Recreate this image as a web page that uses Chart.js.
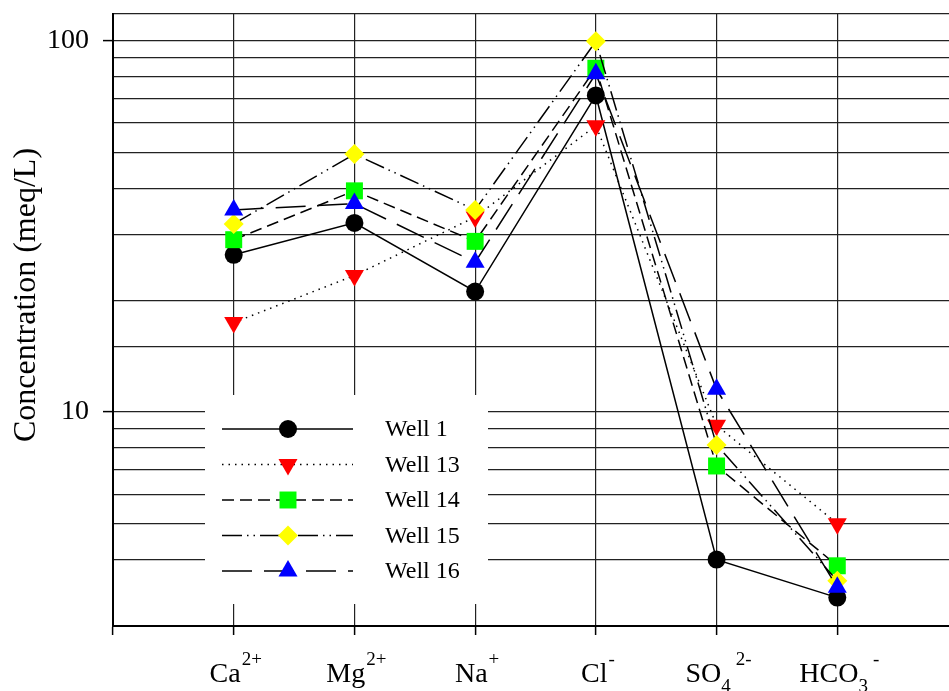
<!DOCTYPE html>
<html>
<head>
<meta charset="utf-8">
<script src="https://cdn.jsdelivr.net/npm/chart.js@4.4.1/dist/chart.umd.min.js"></script>
<style>
  html, body { margin: 0; padding: 0; overflow: hidden; background: #fff; }
  #wrap { position: relative; width: 970px; height: 691px; }
</style>
</head>
<body>
<div id="wrap"><canvas id="chart" width="970" height="691"></canvas></div>
<script>
// ions on the x axis (base text, subscript, superscript)
const ionBase = ['Ca', 'Mg', 'Na', 'Cl', 'SO', 'HCO'];
const ionSub = ['', '', '', '', '4', '3'];
const ionSup = ['2+', '2+', '+', '-', '2-', '-'];

const wellNames = ['Well 1', 'Well 13', 'Well 14', 'Well 15', 'Well 16'];

// concentrations in meq/L, same order as the ions
const well1 = [26.5, 32.3, 21.1, 71.2, 4.0, 3.16];
const well13 = [17.4, 23.3, 33.5, 59, 9.2, 5.0];
const well14 = [29.1, 39.4, 28.8, 84.3, 7.15, 3.85];
const well15 = [32.1, 49.5, 35, 99.6, 8.15, 3.51];
const well16 = [35, 36.4, 25.3, 81.5, 11.5, 3.37];

const yLabelValues = [10, 100];
const yTitle = 'Concentration (meq/L)';

const serif = '"Liberation Serif", "Times New Roman", serif';

function toPoints(values) {
    return values.map((v, i) => ({ x: i + 1, y: v }));
}

const styles = [
    { color: '#000000', shape: 'circle', radius: 9, rotation: 0, dash: [] },
    { color: '#ff0000', shape: 'triangle', radius: 11, rotation: 180, dash: [1.5, 5] },
    { color: '#00ff00', shape: 'rect', radius: 12, rotation: 0, dash: [12, 6] },
    { color: '#ffff00', shape: 'rectRot', radius: 10, rotation: 0, dash: [20, 5, 1.5, 5, 1.5, 5] },
    { color: '#0000ff', shape: 'triangle', radius: 11, rotation: 0, dash: [30, 12] }
];

const allWells = [well1, well13, well14, well15, well16];

const datasets = allWells.map((w, i) => ({
    label: wellNames[i],
    data: toPoints(w),
    borderColor: '#000',
    borderWidth: 1.5,
    borderDash: styles[i].dash,
    pointStyle: styles[i].shape,
    pointRadius: styles[i].radius,
    pointRotation: styles[i].rotation,
    pointBackgroundColor: styles[i].color,
    pointBorderColor: styles[i].color,
    pointBorderWidth: 0,
    fill: false,
    tension: 0,
    order: allWells.length - i
}));

// legend inside the plot, white box
const boxLegend = {
    id: 'boxLegend',
    afterDatasetsDraw(chart) {
        const ctx = chart.ctx;
        ctx.save();
        ctx.fillStyle = '#fff';
        ctx.fillRect(205, 395, 283, 209);
        const rowY = [429, 464.5, 500, 535.5, 571];
        for (let i = 0; i < wellNames.length; i++) {
            const y = rowY[i];
            ctx.strokeStyle = '#000';
            ctx.lineWidth = 1.5;
            ctx.setLineDash(styles[i].dash);
            ctx.beginPath();
            ctx.moveTo(222, y);
            ctx.lineTo(353, y);
            ctx.stroke();
            ctx.setLineDash([]);
            ctx.fillStyle = styles[i].color;
            Chart.helpers.drawPoint(ctx, {
                pointStyle: styles[i].shape,
                radius: styles[i].radius,
                rotation: styles[i].rotation,
                borderWidth: 0
            }, 288, y);
            ctx.fillStyle = '#000';
            ctx.font = '24px ' + serif;
            ctx.textBaseline = 'middle';
            ctx.textAlign = 'left';
            ctx.fillText(wellNames[i], 385, y + 1);
        }
        ctx.restore();
    }
};

// ion labels with sub/superscripts under the x axis, and the y title
const extraText = {
    id: 'extraText',
    afterDraw(chart) {
        const ctx = chart.ctx;
        const xs = chart.scales.x;
        const bigFont = '28px ' + serif;
        const smallFont = '19px ' + serif;
        ctx.save();
        ctx.fillStyle = '#000';
        ctx.textBaseline = 'alphabetic';
        ctx.textAlign = 'left';
        for (let i = 0; i < ionBase.length; i++) {
            ctx.font = bigFont;
            const wb = ctx.measureText(ionBase[i]).width;
            ctx.font = smallFont;
            const ws = ionSub[i] ? ctx.measureText(ionSub[i]).width + 4 : 0;
            const wp = ctx.measureText(ionSup[i]).width;
            const total = wb + ws + wp + 1;
            let x = xs.getPixelForValue(i + 1) - total / 2 + 2;
            ctx.font = bigFont;
            ctx.fillText(ionBase[i], x, 682);
            x += wb;
            ctx.font = smallFont;
            if (ionSub[i]) {
                ctx.fillText(ionSub[i], x, 692);
                x += ws;
            }
            ctx.fillText(ionSup[i], x + 1, 665);
        }
        // y axis title
        ctx.translate(27, 295);
        ctx.rotate(-Math.PI / 2);
        ctx.font = '32px ' + serif;
        ctx.textAlign = 'center';
        ctx.textBaseline = 'middle';
        ctx.fillText(yTitle, 0, 0);
        ctx.restore();
    }
};

new Chart(document.getElementById('chart'), {
    type: 'line',
    data: { datasets: datasets },
    options: {
        responsive: false,
        animation: false,
        layout: { padding: { left: 0, top: 14, right: 10, bottom: 56 } },
        plugins: {
            legend: { display: false },
            tooltip: { enabled: false }
        },
        scales: {
            x: {
                type: 'linear',
                min: 0,
                max: 7,
                afterFit: (scale) => {
                    scale.paddingLeft = 0;
                    scale.paddingRight = 0;
                },
                ticks: { display: false, stepSize: 1 },
                grid: { color: '#222', lineWidth: 1.2, tickLength: 9, tickColor: '#000', tickWidth: 1.5 },
                border: { color: '#000', width: 2 }
            },
            y: {
                type: 'logarithmic',
                min: 2.65,
                max: 118,
                afterFit: (scale) => {
                    scale.width = 113;
                    scale.paddingTop = 0;
                    scale.paddingBottom = 0;
                },
                ticks: {
                    autoSkip: false,
                    color: '#000',
                    padding: 14,
                    font: { family: serif, size: 28 },
                    callback: (v) => yLabelValues.includes(v) ? String(v) : ''
                },
                grid: {
                    color: '#222',
                    lineWidth: 1.2,
                    tickLength: 10,
                    tickWidth: 1.5,
                    tickColor: (c) => (c.tick && yLabelValues.includes(c.tick.value)) ? '#000' : 'rgba(0,0,0,0)'
                },
                border: { color: '#000', width: 2 }
            }
        }
    },
    plugins: [boxLegend, extraText]
});
</script>
</body>
</html>
